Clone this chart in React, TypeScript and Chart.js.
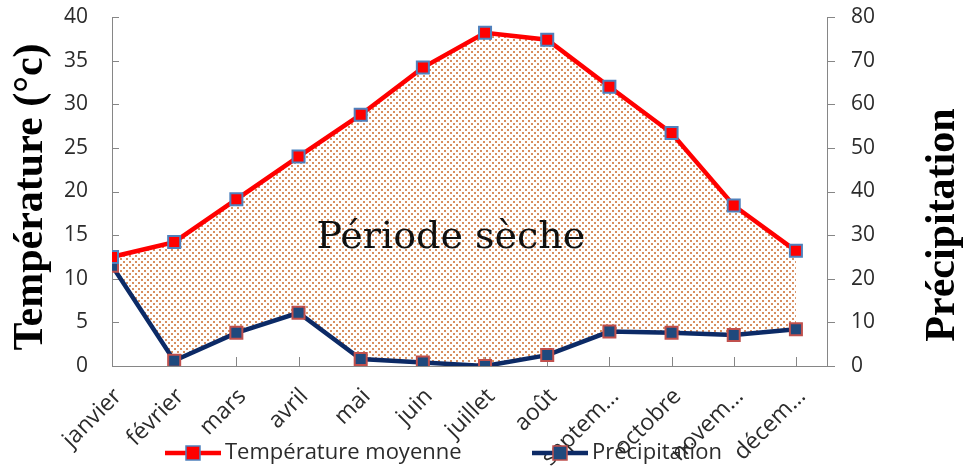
import React, { useEffect, useRef } from "react";
import { Chart, registerables } from "chart.js";

Chart.register(...registerables);

// ---------- data ----------
const months = [
  "janvier", "février", "mars", "avril", "mai", "juin",
  "juillet", "août", "septem…", "octobre", "novem…", "décem…",
];
const temperature = [12.5, 14.2, 19.1, 24.0, 28.8, 34.2, 38.2, 37.4, 32.0, 26.7, 18.4, 13.2];
const precipitation = [23.0, 1.2, 7.6, 12.2, 1.6, 0.8, 0.0, 2.5, 7.9, 7.6, 7.1, 8.4];
const seriesNames = ["Température moyenne", "Précipitation"];
const leftTitle = "Température (°c)";
const rightTitle = "Précipitation";
const dryLabel = "Période sèche";
const tempRange = [0, 40];
const tempStep = 5;
const precipRange = [0, 80];
const precipStep = 10;

// ---------- styles ----------
const AXIS = "#868686";
const TEXT = "#2b2b2b";
const TEMP_LINE = "#ff0000";
const TEMP_MARK_BORDER = "#4f81bd";
const PREC_LINE = "#0c2a66";
const PREC_MARK = "#1f497d";
const PREC_MARK_BORDER = "#c0504d";
const SANS = "'Open Sans', 'DejaVu Sans', sans-serif";
const SERIF_BOLD = "'Liberation Serif', 'Times New Roman', serif";

function makePattern(): CanvasPattern | string {
  const c = document.createElement("canvas");
  c.width = 6;
  c.height = 6;
  const g = c.getContext("2d");
  if (!g) return "rgba(200,100,40,0.3)";
  g.fillStyle = "rgba(200, 98, 34, 0.72)";
  g.fillRect(0, 0, 2, 2);
  g.fillRect(3, 3, 2, 2);
  const p = g.createPattern(c, "repeat");
  return p || "rgba(200,100,40,0.3)";
}

const tickMarks = {
  id: "tickMarks",
  beforeDatasetsDraw(chart: any) {
    const { ctx, chartArea: a, scales } = chart;
    ctx.save();
    ctx.strokeStyle = AXIS;
    ctx.lineWidth = 1;
    ctx.beginPath();
    scales.y.ticks.forEach((t: any) => {
      const y = Math.round(scales.y.getPixelForValue(t.value)) + 0.5;
      ctx.moveTo(a.left, y);
      ctx.lineTo(a.left + 7, y);
    });
    scales.y1.ticks.forEach((t: any) => {
      const y = Math.round(scales.y1.getPixelForValue(t.value)) + 0.5;
      ctx.moveTo(a.right, y);
      ctx.lineTo(a.right + 8, y);
    });
    scales.x.ticks.forEach((t: any) => {
      const x = Math.round(scales.x.getPixelForValue(t.value)) + 0.5;
      ctx.moveTo(x, a.bottom);
      ctx.lineTo(x, a.bottom - 9);
    });
    ctx.stroke();
    ctx.restore();
  },
};

const textsPlugin = {
  id: "texts",
  afterDatasetsDraw(chart: any) {
    const { ctx, scales } = chart;
    ctx.save();
    ctx.font = `38px 'DejaVu Serif', serif`;
    ctx.fillStyle = "#111";
    ctx.textAlign = "center";
    ctx.textBaseline = "alphabetic";
    ctx.fillText(dryLabel, scales.x.getPixelForValue(5.45), scales.y.getPixelForValue(13.5));
    ctx.restore();
  },
  afterDraw(chart: any) {
    const { ctx } = chart;
    ctx.save();
    ctx.font = `bold 42px ${SERIF_BOLD}`;
    ctx.fillStyle = "#000";
    ctx.textAlign = "center";
    ctx.textBaseline = "middle";
    ctx.save();
    ctx.translate(31, 197);
    ctx.rotate(-Math.PI / 2);
    ctx.fillText(leftTitle, 0, 0);
    ctx.restore();
    ctx.save();
    ctx.translate(943, 225);
    ctx.rotate(-Math.PI / 2);
    ctx.fillText(rightTitle, 0, 0);
    ctx.restore();

    const items = [
      { x: 165, line: TEMP_LINE, fill: TEMP_LINE, border: TEMP_MARK_BORDER, label: seriesNames[0] },
      { x: 532, line: PREC_LINE, fill: PREC_MARK, border: PREC_MARK_BORDER, label: seriesNames[1] },
    ];
    const ly = 453;
    items.forEach((it) => {
      ctx.strokeStyle = it.line;
      ctx.lineWidth = 4.5;
      ctx.beginPath();
      ctx.moveTo(it.x, ly);
      ctx.lineTo(it.x + 56, ly);
      ctx.stroke();
      const cx = it.x + 28;
      ctx.fillStyle = it.fill;
      ctx.fillRect(cx - 7, ly - 7, 14, 14);
      ctx.strokeStyle = it.border;
      ctx.lineWidth = 1.5;
      ctx.strokeRect(cx - 7, ly - 7, 14, 14);
      ctx.font = `22px ${SANS}`;
      ctx.fillStyle = TEXT;
      ctx.textAlign = "left";
      ctx.textBaseline = "alphabetic";
      ctx.fillText(it.label, it.x + 60, 459);
    });
    ctx.restore();
  },
};

export default function App() {
  const ref = useRef<HTMLCanvasElement | null>(null);

  useEffect(() => {
    const canvas = ref.current;
    if (!canvas) return;
    const pattern = makePattern();
    const tickFont = { family: SANS, size: 21 };

    const chart = new Chart(canvas, {
      type: "line",
      data: {
        datasets: [
          {
            label: seriesNames[0],
            yAxisID: "y",
            data: temperature.map((v, i) => ({ x: i, y: v })),
            borderColor: TEMP_LINE,
            borderWidth: 4.5,
            backgroundColor: pattern as any,
            fill: "+1",
            tension: 0,
            pointStyle: "rect",
            pointRadius: 8.5,
            pointBackgroundColor: TEMP_LINE,
            pointBorderColor: TEMP_MARK_BORDER,
            pointBorderWidth: 2,
          },
          {
            label: seriesNames[1],
            yAxisID: "y1",
            data: precipitation.map((v, i) => ({ x: i, y: v })),
            borderColor: PREC_LINE,
            borderWidth: 4.5,
            fill: false,
            tension: 0,
            pointStyle: "rect",
            pointRadius: 8.5,
            pointBackgroundColor: PREC_MARK,
            pointBorderColor: PREC_MARK_BORDER,
            pointBorderWidth: 2,
          },
        ],
      },
      options: {
        animation: false,
        responsive: false,
        devicePixelRatio: 1,
        layout: { padding: { top: 17, left: 0, right: 0, bottom: 0 } },
        plugins: {
          legend: { display: false },
          tooltip: { enabled: false },
          filler: { drawTime: "beforeDatasetsDraw" },
        } as any,
        scales: {
          x: {
            type: "linear",
            min: 0,
            max: months.length - 0.5,
            grid: { display: false, drawTicks: false },
            border: { display: true, color: AXIS, width: 1 },
            afterBuildTicks: (s: any) => {
              s.ticks = months.map((_, i) => ({ value: i }));
            },
            afterFit: (s: any) => {
              s.height = 105;
              s.paddingLeft = 0;
              s.paddingRight = 0;
              s.paddingTop = 0;
              s.paddingBottom = 0;
            },
            ticks: {
              autoSkip: false,
              minRotation: 45,
              maxRotation: 45,
              padding: 17,
              labelOffset: 6,
              color: TEXT,
              font: { family: SANS, size: 23 },
              callback: (v: any) => months[v] ?? "",
            },
          },
          y: {
            position: "left",
            min: tempRange[0],
            max: tempRange[1],
            grid: { display: false, drawTicks: false },
            border: { display: true, color: AXIS, width: 1 },
            afterFit: (s: any) => {
              s.width = 112;
              s.paddingTop = 0;
              s.paddingBottom = 0;
            },
            ticks: { stepSize: tempStep, padding: 24, color: TEXT, font: tickFont },
          },
          y1: {
            position: "right",
            min: precipRange[0],
            max: precipRange[1],
            grid: { display: false, drawTicks: false },
            border: { display: true, color: AXIS, width: 1 },
            afterFit: (s: any) => {
              s.width = 136;
              s.paddingTop = 0;
              s.paddingBottom = 0;
            },
            ticks: { stepSize: precipStep, padding: 24, color: TEXT, font: tickFont },
          },
        },
      } as any,
      plugins: [tickMarks, textsPlugin],
    });
    return () => chart.destroy();
  }, []);

  return (
    <div style={{ position: "fixed", left: 0, top: 0, width: 963, height: 471, background: "#fff" }}>
      <canvas ref={ref} width={963} height={471} style={{ width: 963, height: 471, display: "block" }} />
    </div>
  );
}
